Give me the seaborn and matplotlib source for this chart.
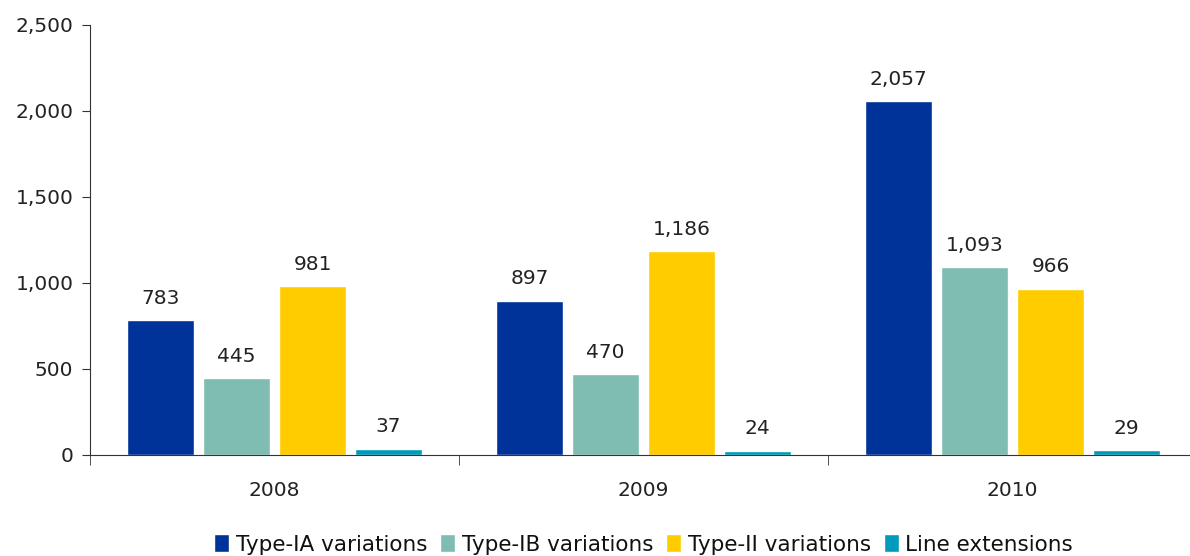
import pandas as pd
import matplotlib.pyplot as plt
import seaborn as sns
from matplotlib.ticker import FuncFormatter, FixedLocator

# ------------------------------
# Data
# ------------------------------
years = ["2008", "2009", "2010"]
type_ia = [783, 897, 2057]
type_ib = [445, 470, 1093]
type_ii = [981, 1186, 966]
line_ext = [37, 24, 29]

series = ["Type-IA variations", "Type-IB variations", "Type-II variations", "Line extensions"]
colors = ["#003399", "#7FBCB2", "#FFCC00", "#009BBB"]

df = pd.DataFrame({
    "Year": years * 4,
    "Series": [s for s in series for _ in years],
    "Value": type_ia + type_ib + type_ii + line_ext,
})

# ------------------------------
# Plot
# ------------------------------
sns.set_style("white")
plt.rcParams["font.family"] = ["DejaVu Sans"]

fig = plt.figure(figsize=(11.9, 5.56), dpi=100)
ax = fig.add_axes([90 / 1190, 1 - 455 / 556, 1107 / 1190, 430 / 556])

sns.barplot(data=df, x="Year", y="Value", hue="Series", hue_order=series,
            palette=colors, width=0.824, gap=0.13, saturation=1, ax=ax)

for c in ax.containers:
    ax.bar_label(c, labels=[f"{v:,.0f}" for v in c.datavalues],
                 padding=9, fontsize=14.5, color="#222222")

ax.set_ylim(0, 2500)
ax.set_xlim(-0.5, 2.5)
ax.yaxis.set_major_formatter(FuncFormatter(lambda v, p: f"{v:,.0f}"))
ax.set_yticks(range(0, 2501, 500))
ax.set_xlabel("")
ax.set_ylabel("")

for side in ["top", "right"]:
    ax.spines[side].set_visible(False)
ax.spines["left"].set_color("#333333")
ax.spines["bottom"].set_color("#333333")

ax.tick_params(axis="y", which="major", left=True, length=6, color="#333333",
               labelsize=14.5, labelcolor="#222222", pad=6)
ax.tick_params(axis="x", which="major", bottom=False, labelsize=14.5,
               labelcolor="#222222", pad=15)
ax.xaxis.set_minor_locator(FixedLocator([-0.5, 0.5, 1.5]))
ax.tick_params(axis="x", which="minor", bottom=True, length=7, color="#333333")

ax.legend(loc="center", bbox_to_anchor=(0.5, -0.208), ncol=4, frameon=False,
          fontsize=15.5, handlelength=0.7, handleheight=0.9, handletextpad=0.3,
          columnspacing=0.6, labelcolor="#111111")

plt.savefig("out.png", dpi=100)
